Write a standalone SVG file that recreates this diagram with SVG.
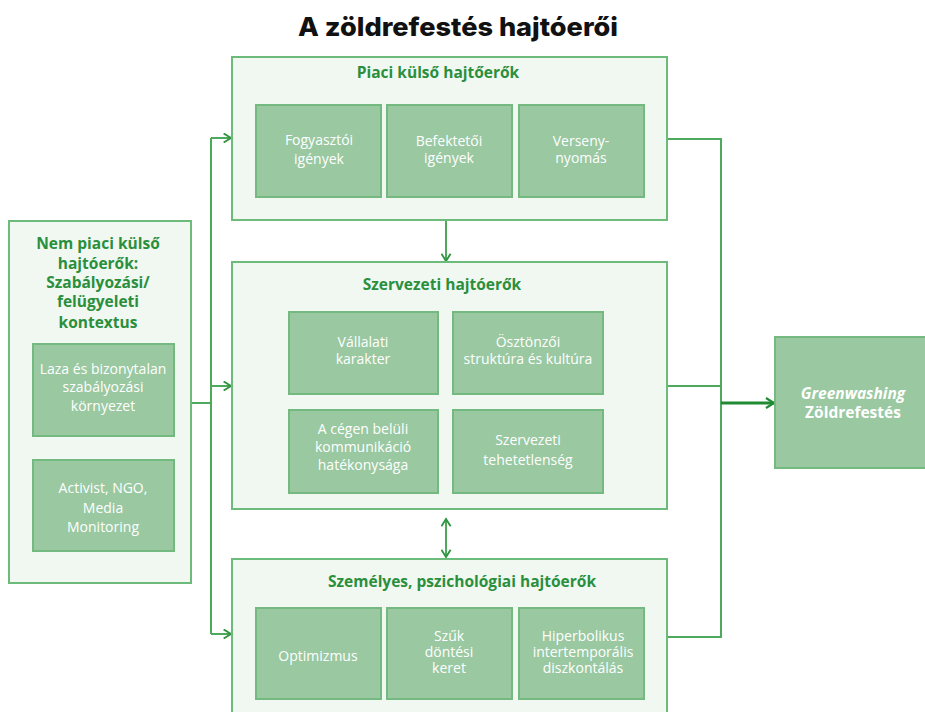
<svg xmlns="http://www.w3.org/2000/svg" width="925" height="712" viewBox="0 0 925 712">
<style>
.outer{fill:#f1f8f2;stroke:#6dbb7a;stroke-width:2}
.inner{fill:#99c8a1;stroke:#74b980;stroke-width:2}
.hd{font-family:"Open Sans","Liberation Sans",sans-serif;font-weight:bold;font-size:15.5px;fill:#2a8f3c;text-anchor:middle}
.it{font-family:"Open Sans","Liberation Sans",sans-serif;font-size:14px;fill:#ffffff;text-anchor:middle}
.title{font-family:Inter,"Liberation Sans",sans-serif;font-weight:800;font-size:26px;fill:#111111;text-anchor:middle}
.ln{fill:none;stroke:#4ea95d;stroke-width:2}
</style>
<defs>
<marker id="ah2" viewBox="0 0 12 12" refX="10" refY="6" markerWidth="12" markerHeight="12" orient="auto" markerUnits="userSpaceOnUse">
<path d="M2,1 L10,6 L2,11" fill="none" stroke="#1f8a32" stroke-width="2.2"/>
</marker>
<marker id="ah3" viewBox="0 0 12 12" refX="10" refY="6" markerWidth="11" markerHeight="11" orient="auto-start-reverse" markerUnits="userSpaceOnUse">
<path d="M2,1 L10,6 L2,11" fill="none" stroke="#2e9440" stroke-width="2"/>
</marker>
</defs>
<rect width="925" height="712" fill="#ffffff"/>
<text class="title" x="458" y="36" textLength="320" lengthAdjust="spacingAndGlyphs">A zöldrefestés hajtóerői</text>

<g id="connectors">
<polyline class="ln" points="191,403 211,403"/>
<polyline class="ln" points="211,138 211,634"/>
<line class="ln" x1="211" y1="138" x2="231" y2="138" marker-end="url(#ah3)"/>
<line class="ln" x1="211" y1="386" x2="231" y2="386" marker-end="url(#ah3)"/>
<line class="ln" x1="211" y1="634" x2="231" y2="634" marker-end="url(#ah3)"/>
<line class="ln" x1="446" y1="221" x2="446" y2="261" marker-end="url(#ah3)"/>
<line class="ln" x1="446" y1="519" x2="446" y2="557" marker-start="url(#ah3)" marker-end="url(#ah3)"/>
<polyline class="ln" points="667,139 721,139 721,637 667,637"/>
<line class="ln" x1="667" y1="386" x2="721" y2="386"/>
<line x1="721" y1="403" x2="774" y2="403" stroke="#1f8a32" stroke-width="3" marker-end="url(#ah2)"/>
</g>

<g id="piaci">
<rect class="outer" x="232" y="57" width="435" height="163"/>
<text class="hd" x="438" y="78">Piaci külső hajtőerők</text>
</g>
<g id="fogyasztoi">
<rect class="inner" x="256" y="105" width="125" height="92"/>
<text class="it" x="319" y="145">Fogyasztói</text>
<text class="it" x="319" y="164">igények</text>
</g>
<g id="befekteto">
<rect class="inner" x="387" y="105" width="125" height="92"/>
<text class="it" x="449" y="146">Befektetői</text>
<text class="it" x="449" y="163">igények</text>
</g>
<g id="verseny">
<rect class="inner" x="519" y="105" width="125" height="92"/>
<text class="it" x="581" y="146">Verseny-</text>
<text class="it" x="581" y="163">nyomás</text>
</g>

<g id="szervezeti">
<rect class="outer" x="232" y="262" width="435" height="247"/>
<text class="hd" x="442" y="290">Szervezeti hajtóerők</text>
</g>
<g id="vallalati">
<rect class="inner" x="289" y="312" width="149" height="82"/>
<text class="it" x="363" y="347">Vállalati</text>
<text class="it" x="363" y="364">karakter</text>
</g>
<g id="osztonzo">
<rect class="inner" x="453" y="312" width="150" height="82"/>
<text class="it" x="528" y="347">Ösztönzői</text>
<text class="it" x="528" y="364">struktúra és kultúra</text>
</g>
<g id="kommunikacio">
<rect class="inner" x="289" y="410" width="149" height="83"/>
<text class="it" x="363" y="434">A cégen belüli</text>
<text class="it" x="363" y="452">kommunikáció</text>
<text class="it" x="363" y="470">hatékonysága</text>
</g>
<g id="tehetetlenseg">
<rect class="inner" x="453" y="410" width="150" height="83"/>
<text class="it" x="528" y="445">Szervezeti</text>
<text class="it" x="528" y="465">tehetetlenség</text>
</g>

<g id="szemelyes">
<rect class="outer" x="232" y="559" width="435" height="160"/>
<text class="hd" x="462" y="587">Személyes, pszichológiai hajtóerők</text>
</g>
<g id="optimizmus">
<rect class="inner" x="256" y="608" width="125" height="91"/>
<text class="it" x="318" y="661">Optimizmus</text>
</g>
<g id="szuk">
<rect class="inner" x="387" y="608" width="125" height="91"/>
<text class="it" x="449" y="641">Szűk</text>
<text class="it" x="449" y="657">döntési</text>
<text class="it" x="449" y="673">keret</text>
</g>
<g id="hiperbolikus">
<rect class="inner" x="519" y="608" width="125" height="91"/>
<text class="it" x="583" y="641">Hiperbolikus</text>
<text class="it" x="583" y="657">intertemporális</text>
<text class="it" x="583" y="673">diszkontálás</text>
</g>

<g id="nempiaci">
<rect class="outer" x="9" y="221" width="182" height="362"/>
<text class="hd" x="98" y="249">Nem piaci külső</text>
<text class="hd" x="98" y="269">hajtóerők:</text>
<text class="hd" x="98" y="288">Szabályozási/</text>
<text class="hd" x="98" y="307">felügyeleti</text>
<text class="hd" x="98" y="328">kontextus</text>
</g>
<g id="laza">
<rect class="inner" x="33" y="344" width="141" height="92"/>
<text class="it" x="103" y="374">Laza és bizonytalan</text>
<text class="it" x="103" y="392">szabályozási</text>
<text class="it" x="103" y="411">környezet</text>
</g>
<g id="activist">
<rect class="inner" x="33" y="460" width="141" height="91"/>
<text class="it" x="103" y="493">Activist, NGO,</text>
<text class="it" x="103" y="513">Media</text>
<text class="it" x="103" y="532">Monitoring</text>
</g>

<g id="greenwashing">
<rect class="inner" x="775" y="337" width="160" height="131"/>
<text class="it" style="font-weight:bold;font-style:italic;font-size:15.5px" x="853" y="399">Greenwashing</text>
<text class="it" style="font-weight:bold;font-size:15.5px" x="853" y="418">Zöldrefestés</text>
</g>
</svg>
